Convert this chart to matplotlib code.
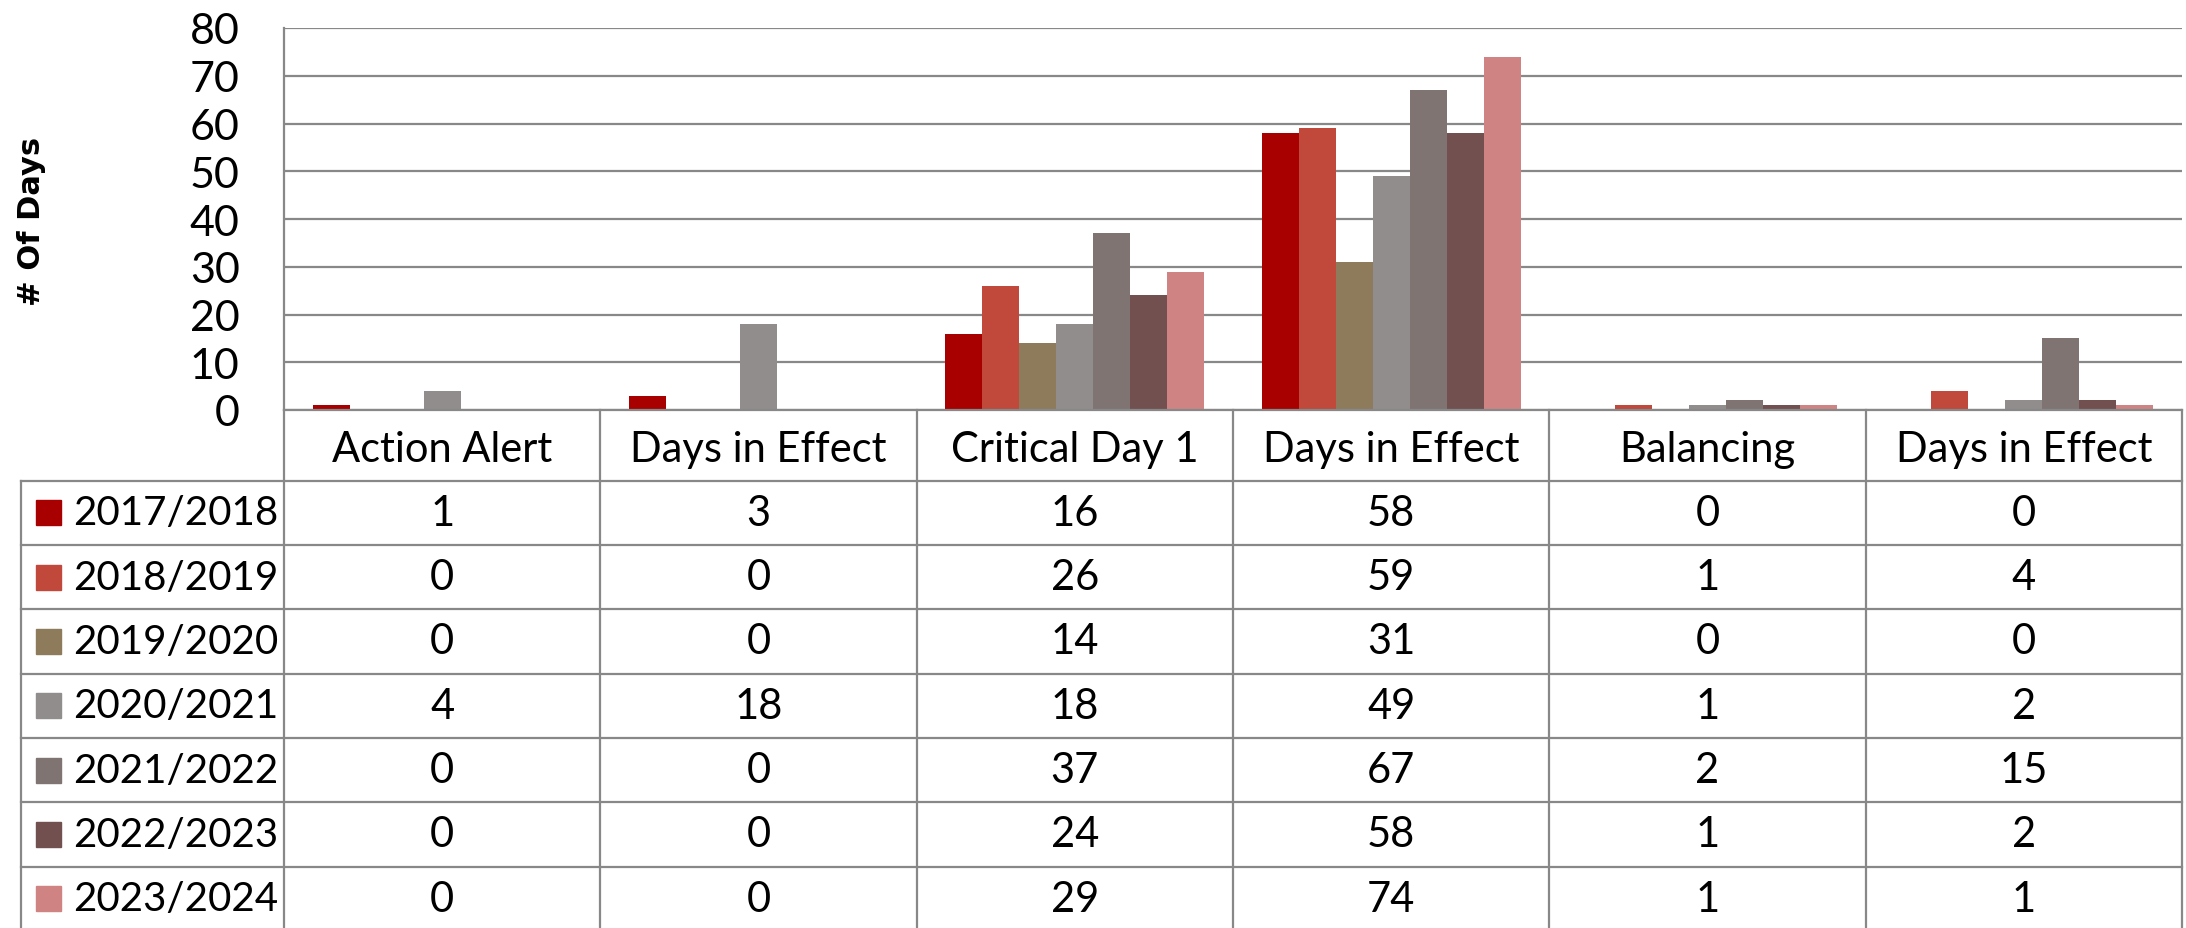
"""Grouped bar chart with a data table underneath, Excel style."""

import matplotlib

matplotlib.use("Agg")
import matplotlib.pyplot as plt
import numpy as np
from matplotlib.patches import Rectangle

categories = ["Action Alert", "Days in Effect", "Critical Day 1",
              "Days in Effect", "Balancing", "Days in Effect"]
seasons = ["2017/2018", "2018/2019", "2019/2020", "2020/2021",
           "2021/2022", "2022/2023", "2023/2024"]
days_2017 = [1, 3, 16, 58, 0, 0]
days_2018 = [0, 0, 26, 59, 1, 4]
days_2019 = [0, 0, 14, 31, 0, 0]
days_2020 = [4, 18, 18, 49, 1, 2]
days_2021 = [0, 0, 37, 67, 2, 15]
days_2022 = [0, 0, 24, 58, 1, 2]
days_2023 = [0, 0, 29, 74, 1, 1]
series = [days_2017, days_2018, days_2019, days_2020,
          days_2021, days_2022, days_2023]
colors = ["#A80000", "#C0493B", "#8E7B5B", "#918D8C",
          "#807473", "#735050", "#D08383"]

W, H = 2186, 929
LINE = "#888888"
TABLE_FS = 30
plt.rcParams["font.family"] = ["Lato", "DejaVu Sans"]

fig = plt.figure(figsize=(W / 100, H / 100), dpi=100)

# plot area in pixels
left, right, top, base = 284, 2182, 29, 411
ax = fig.add_axes([left / W, (H - base) / H, (right - left) / W, (base - top) / H])
n_cat = len(categories)
x = np.arange(n_cat)
bw = 0.117
for i, (vals, c) in enumerate(zip(series, colors)):
    ax.bar(x + (i - 3) * bw, vals, width=bw, color=c, linewidth=0, zorder=3)
ax.set_xlim(-0.5, n_cat - 0.5)
ax.set_ylim(0, 80)
ax.set_yticks(range(0, 81, 10))
ax.set_xticks([])
ax.yaxis.grid(True, color=LINE, linewidth=1.6)
ax.set_axisbelow(True)
ax.tick_params(axis="y", length=0, pad=32, labelsize=31)
for side in ("top", "right", "bottom"):
    ax.spines[side].set_visible(False)
ax.spines["left"].set_color(LINE)
ax.spines["left"].set_linewidth(1.6)

fig.text(32 / W, 1 - 221 / H, "# Of Days", rotation=90, ha="center", va="center",
         fontsize=22, fontweight="bold", family=["DejaVu Sans"])

# data table below the plot, sharing the category scale
cat_px = (right - left) / n_cat
tab_left = 20.7
x0 = -0.5 - (left - tab_left) / cat_px
head_h = 1.1
n_rows = len(seasons)
row_px = 64.3
y_bot = head_h + n_rows
tab_bottom_px = base + y_bot * row_px
axt = fig.add_axes([tab_left / W, (H - tab_bottom_px) / H,
                    (right - tab_left) / W, (tab_bottom_px - base) / H])
axt.set_xlim(x0, n_cat - 0.5)
axt.set_ylim(y_bot, 0)
axt.axis("off")

for b in np.arange(-0.5, n_cat, 1.0):
    axt.plot([b, b], [0, y_bot], color=LINE, lw=1.6, clip_on=False)
axt.plot([x0, x0], [head_h, y_bot], color=LINE, lw=1.6, clip_on=False)
axt.plot([-0.5, n_cat - 0.5], [0, 0], color=LINE, lw=1.6, clip_on=False)
for r in range(n_rows + 1):
    axt.plot([x0, n_cat - 0.5], [head_h + r, head_h + r], color=LINE, lw=1.6,
             clip_on=False)

for j, name in enumerate(categories):
    axt.text(j, head_h / 2 + 0.05, name, ha="center", va="center", fontsize=TABLE_FS)

sq_w = 25 / cat_px
sq_h = 25 / row_px
sq_x = x0 + (36 - tab_left) / cat_px
lab_x = x0 + (73 - tab_left) / cat_px
for r, (season, vals, c) in enumerate(zip(seasons, series, colors)):
    yc = head_h + r + 0.5
    axt.add_patch(Rectangle((sq_x, yc - sq_h / 2), sq_w, sq_h, color=c, clip_on=False))
    axt.text(lab_x, yc, season, ha="left", va="center", fontsize=29)
    for j, v in enumerate(vals):
        axt.text(j, yc, str(v), ha="center", va="center", fontsize=TABLE_FS)

fig.savefig("out.png", dpi=100, facecolor="white")
